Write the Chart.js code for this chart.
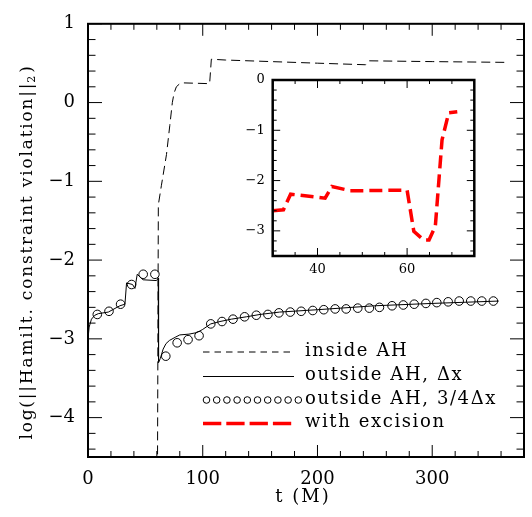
<!DOCTYPE html>
<html><head><meta charset="utf-8">
<script src="https://cdn.jsdelivr.net/npm/chart.js@4.4.0/dist/chart.umd.min.js"></script>
<style>
html,body{margin:0;padding:0;background:#fff;}
#wrap{position:relative;width:532px;height:517px;background:#fff;}
#main{position:absolute;left:0;top:0;}
#inset{position:absolute;left:230px;top:60px;}
</style></head><body>
<div id="wrap"><canvas id="main" width="532" height="517"></canvas><canvas id="inset" width="260" height="220"></canvas></div>
<script>
// ---- data ----
const insideT = [60.5, 61.3, 64, 68.4, 71.3, 73.5, 75, 77, 80, 83, 106, 107.5, 120, 200, 242, 245, 300, 367];
const insideY = [-5, -1.3, -1.05, -0.66, -0.29, 0.0, 0.12, 0.2, 0.24, 0.25, 0.24, 0.55, 0.54, 0.5, 0.48, 0.53, 0.52, 0.51];

const outT = [0, 1, 3, 6, 9, 17.7, 27.8, 32.2, 33.6, 38.8, 40.9, 42.9, 48, 59.7, 61.2, 61.5, 63, 65.5, 68, 71, 76, 80, 88, 95, 100, 107, 115, 125, 138, 150, 167, 200, 250, 300, 358];
const outY = [-3.0, -2.85, -2.75, -2.7, -2.68, -2.66, -2.58, -2.56, -2.29, -2.31, -2.36, -2.18, -2.25, -2.26, -2.23, -3.3, -3.25, -3.13, -3.06, -3.02, -2.98, -2.95, -2.94, -2.92, -2.88, -2.81, -2.78, -2.75, -2.72, -2.69, -2.66, -2.63, -2.58, -2.55, -2.52];

const fineT = [8.1, 18.3, 28.4, 38, 48.1, 58.3, 67.8, 77.7, 87.2, 96.8, 107, 116.8, 126.4, 136.5, 146.7, 156.8, 166.4, 176.3, 185.8, 195.9, 205.5, 215.4, 225, 235.1, 245.2, 254, 265, 274.8, 284.3, 294.5, 304, 313.9, 323.5, 333.6, 343.2, 353.3];
const fineY = [-2.69, -2.65, -2.56, -2.31, -2.18, -2.18, -3.22, -3.05, -3.01, -2.96, -2.81, -2.78, -2.75, -2.72, -2.70, -2.69, -2.67, -2.66, -2.65, -2.64, -2.63, -2.62, -2.62, -2.61, -2.61, -2.60, -2.58, -2.57, -2.56, -2.55, -2.54, -2.53, -2.52, -2.52, -2.52, -2.52];

const excT = [30, 32.4, 34, 41.7, 43.2, 47.3, 50.3, 60, 61.5, 63.7, 64.9, 66.3, 67.8, 69.3, 71.2];
const excY = [-2.6, -2.58, -2.27, -2.35, -2.12, -2.2, -2.2, -2.19, -3.01, -3.18, -3.18, -2.91, -1.19, -0.65, -0.63];

const mainXTicks = [0, 100, 200, 300];
const mainYTicks = [-4, -3, -2, -1, 0, 1];
const insetXTicks = [40, 60];
const insetYTicks = [-3, -2, -1, 0];

const legendLabels = ['inside AH', 'outside AH, \u0394x', 'outside AH, 3/4\u0394x', 'with excision'];
const yTitle = 'log(||Hamilt. constraint violation||';
const xTitle = 't (M)';

// ---- helpers ----
const FONT = '"DejaVu Serif", serif';
const pts = (xs, ys) => xs.map((x, i) => ({x: x, y: ys[i]}));
const fmt = v => (v < 0 ? '\u2212' + Math.abs(v) : String(v));

const framePlugin = {
  id: 'frame',
  afterDatasetsDraw(chart, args, o) {
    const ctx = chart.ctx, a = chart.chartArea;
    const xs = chart.scales.x, ys = chart.scales.y;
    ctx.save();
    ctx.strokeStyle = '#000';
    ctx.lineWidth = o.tickWidth;
    ctx.beginPath();
    for (let k = Math.ceil(xs.min / o.xMinor - 1e-9); k * o.xMinor <= xs.max + 1e-9; k++) {
      const v = k * o.xMinor;
      const p = xs.getPixelForValue(v);
      const r = v / o.xMajor;
      const L = Math.abs(r - Math.round(r)) < 1e-6 ? o.xMajLen : o.xMinLen;
      ctx.moveTo(p, a.bottom); ctx.lineTo(p, a.bottom - L);
      ctx.moveTo(p, a.top); ctx.lineTo(p, a.top + L);
    }
    for (let k = Math.ceil(ys.min / o.yMinor - 1e-9); k * o.yMinor <= ys.max + 1e-9; k++) {
      const v = k * o.yMinor;
      const p = ys.getPixelForValue(v);
      const r = v / o.yMajor;
      const L = Math.abs(r - Math.round(r)) < 1e-6 ? o.yMajLen : o.yMinLen;
      ctx.moveTo(a.left, p); ctx.lineTo(a.left + L, p);
      ctx.moveTo(a.right, p); ctx.lineTo(a.right - L, p);
    }
    ctx.stroke();
    ctx.lineWidth = o.frameWidth;
    ctx.strokeRect(a.left, a.top, a.right - a.left, a.bottom - a.top);
    ctx.restore();
  }
};

const decorPlugin = {
  id: 'decor',
  afterDraw(chart) {
    const ctx = chart.ctx;
    ctx.save();
    ctx.fillStyle = '#000';
    ctx.strokeStyle = '#000';
    // y title
    ctx.save();
    ctx.translate(28, 252);
    ctx.rotate(-Math.PI / 2);
    ctx.letterSpacing = '1.8px';
    ctx.font = '17px ' + FONT;
    const w1 = ctx.measureText(yTitle).width;
    ctx.font = '11px ' + FONT;
    const w2 = ctx.measureText('2').width;
    ctx.font = '17px ' + FONT;
    const w3 = ctx.measureText(')').width;
    let sx = -(w1 + w2 + w3) / 2;
    ctx.textBaseline = 'middle';
    ctx.textAlign = 'left';
    ctx.fillText(yTitle, sx, 0);
    ctx.font = '11px ' + FONT;
    ctx.fillText('2', sx + w1 - 1, 4);
    ctx.font = '17px ' + FONT;
    ctx.fillText(')', sx + w1 + w2, 0);
    ctx.restore();
    // x title
    ctx.save();
    ctx.letterSpacing = '2px';
    ctx.font = '18px ' + FONT;
    ctx.textAlign = 'center';
    ctx.textBaseline = 'middle';
    ctx.fillText(xTitle, 303, 497);
    ctx.restore();
    // legend
    const x0 = 203, x1 = 294, tx = 305;
    const rows = [352, 376.5, 400, 423.5];
    ctx.save();
    ctx.letterSpacing = '1.6px';
    ctx.font = '18px ' + FONT;
    ctx.textAlign = 'left';
    ctx.textBaseline = 'middle';
    legendLabels.forEach((t, i) => ctx.fillText(t, tx, rows[i] - 1));
    ctx.restore();
    ctx.lineWidth = 1;
    ctx.setLineDash([6.5, 5]);
    ctx.beginPath(); ctx.moveTo(x0, rows[0]); ctx.lineTo(x1, rows[0]); ctx.stroke();
    ctx.setLineDash([]);
    ctx.beginPath(); ctx.moveTo(x0, rows[1]); ctx.lineTo(x1, rows[1]); ctx.stroke();
    for (let i = 0; i < 10; i++) {
      ctx.beginPath(); ctx.arc(206.5 + i * 10.2, rows[2], 3.3, 0, 2 * Math.PI); ctx.stroke();
    }
    ctx.strokeStyle = '#ff0000';
    ctx.lineWidth = 3.3;
    ctx.setLineDash([18.3, 5]);
    ctx.beginPath(); ctx.moveTo(x0, rows[3]); ctx.lineTo(292, rows[3]); ctx.stroke();
    ctx.restore();
  }
};

Chart.defaults.font.family = FONT;
Chart.defaults.color = '#000';

new Chart(document.getElementById('main'), {
  type: 'line',
  data: {
    datasets: [
      {label: legendLabels[0], data: pts(insideT, insideY), borderColor: '#000', borderWidth: 1, borderDash: [9, 5], pointRadius: 0, fill: false, tension: 0},
      {label: legendLabels[1], data: pts(outT, outY), borderColor: '#000', borderWidth: 1, pointRadius: 0, fill: false, tension: 0},
      {label: legendLabels[2], data: pts(fineT, fineY), showLine: false, borderColor: '#000', backgroundColor: 'rgba(0,0,0,0)', pointRadius: 4.3, pointBorderWidth: 1, pointBorderColor: '#000', pointBackgroundColor: 'rgba(0,0,0,0)'}
    ]
  },
  options: {
    responsive: false,
    animation: false,
    events: [],
    layout: {padding: {top: 13, right: 8, left: 0, bottom: 0}},
    plugins: {
      legend: {display: false},
      tooltip: {enabled: false},
      frame: {tickWidth: 1, frameWidth: 2, xMinor: 20, xMajor: 100, xMajLen: 12, xMinLen: 6, yMinor: 0.2, yMajor: 1, yMajLen: 14, yMinLen: 7.5}
    },
    scales: {
      x: {
        type: 'linear', min: 0, max: 380,
        grid: {display: false, drawTicks: false}, border: {display: false},
        afterBuildTicks: s => { s.ticks = mainXTicks.map(v => ({value: v})); },
        afterFit: s => { s.height = 60; },
        ticks: {font: {size: 18, family: FONT}, color: '#000', padding: 12, maxRotation: 0, callback: fmt}
      },
      y: {
        type: 'linear', min: -4.5, max: 1,
        grid: {display: false, drawTicks: false}, border: {display: false},
        afterBuildTicks: s => { s.ticks = mainYTicks.map(v => ({value: v})); },
        afterFit: s => { s.width = 88; },
        ticks: {font: {size: 18, family: FONT}, color: '#000', padding: 13, callback: fmt}
      }
    }
  },
  plugins: [framePlugin, decorPlugin]
});

new Chart(document.getElementById('inset'), {
  type: 'line',
  data: {
    datasets: [
      {label: legendLabels[3], data: pts(excT, excY), borderColor: '#ff0000', borderWidth: 3.5, borderDash: [13, 6], pointRadius: 0, fill: false, tension: 0}
    ]
  },
  options: {
    responsive: false,
    animation: false,
    events: [],
    layout: {padding: {top: 20, right: 15.7, left: 0, bottom: 0}},
    plugins: {
      legend: {display: false},
      tooltip: {enabled: false},
      frame: {tickWidth: 1, frameWidth: 2.5, xMinor: 5, xMajor: 20, xMajLen: 8, xMinLen: 4, yMinor: 0.2, yMajor: 1, yMajLen: 7.5, yMinLen: 4}
    },
    scales: {
      x: {
        type: 'linear', min: 30, max: 75,
        grid: {display: false, drawTicks: false}, border: {display: false},
        afterBuildTicks: s => { s.ticks = insetXTicks.map(v => ({value: v})); },
        afterFit: s => { s.height = 24; },
        ticks: {font: {size: 13, family: FONT}, color: '#000', padding: 6, maxRotation: 0, callback: fmt}
      },
      y: {
        type: 'linear', min: -3.5, max: 0,
        grid: {display: false, drawTicks: false}, border: {display: false},
        afterBuildTicks: s => { s.ticks = insetYTicks.map(v => ({value: v})); },
        afterFit: s => { s.width = 42.7; },
        ticks: {font: {size: 13, family: FONT}, color: '#000', padding: 8, callback: fmt}
      }
    }
  },
  plugins: [framePlugin]
});
</script>
</body></html>
